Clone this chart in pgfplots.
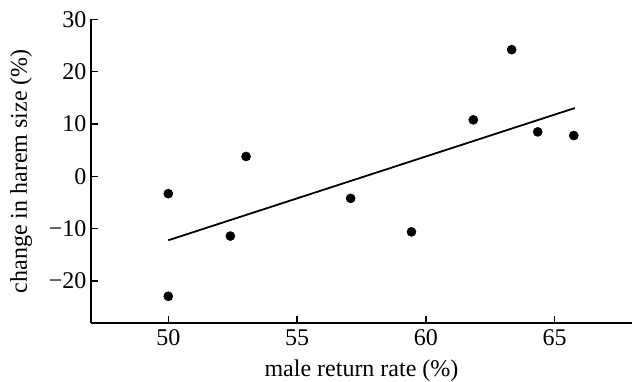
\documentclass[border=0pt]{standalone}
\usepackage{fontspec}
\setmainfont{Liberation Serif}
\usepackage{pgfplots}
\pgfplotsset{compat=1.18}
\begin{document}
\begin{tikzpicture}
\begin{axis}[
  at={(0,0)}, anchor=south west,
  scale only axis,
  width=541pt, height=303.7pt,
  xmin=47, xmax=68, ymin=-28, ymax=30,
  axis lines*=left,
  axis line style={line width=1.6pt},
  xtick={50,55,60,65},
  ytick={-20,-10,0,10,20,30},
  yticklabels={−20,−10,0,10,20,30},
  tick align=inside,
  major tick length=7pt,
  every tick/.style={black, line width=1.4pt},
  tick label style={font=\fontsize{24}{28}\selectfont},
  /pgf/number format/assume math mode=true,
  xticklabel style={yshift=-3pt},
  yticklabel style={xshift=-1pt},
  label style={font=\fontsize{24}{28}\selectfont},
  xlabel={male return rate (\%)},
  ylabel={change in harem size (\%)},
  xlabel style={yshift=-7.5pt},
  ylabel style={yshift=10pt},
  clip=false,
]
\addplot[only marks, mark=*, mark size=4.6pt, black] coordinates {
  (50.00,-3.3) (50.00,-22.9) (52.41,-11.4) (53.02,3.8) (57.08,-4.2)
  (59.44,-10.6) (61.84,10.8) (63.33,24.2) (64.34,8.5) (65.74,7.8)
};
\addplot[black, line width=1.8pt] coordinates {(50.0,-12.2) (65.78,13.05)};
\end{axis}
\pgfresetboundingbox
\useasboundingbox (-91pt,-59pt) rectangle (552pt,323pt);
\end{tikzpicture}
\end{document}
